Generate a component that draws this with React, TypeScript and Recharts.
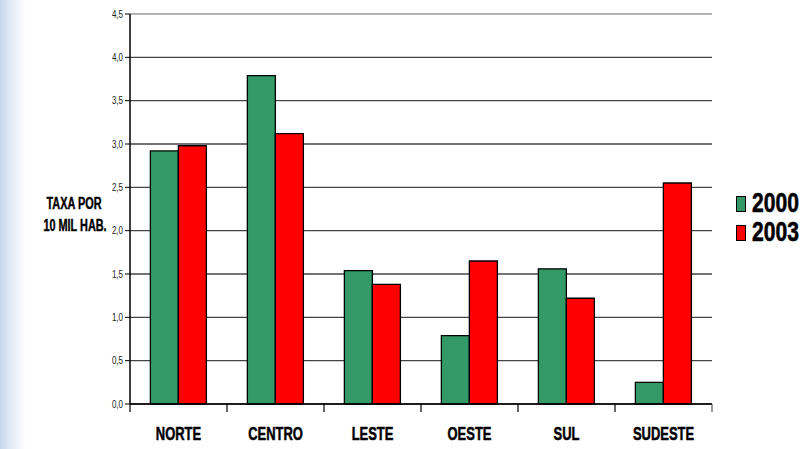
import { BarChart, Bar, XAxis, YAxis, CartesianGrid, Label } from 'recharts'

const regions = ['NORTE', 'CENTRO', 'LESTE', 'OESTE', 'SUL', 'SUDESTE']
const taxa2000 = [2.92, 3.79, 1.54, 0.79, 1.56, 0.25]
const taxa2003 = [2.98, 3.12, 1.38, 1.65, 1.22, 2.55]
const yTicks = [0, 0.5, 1, 1.5, 2, 2.5, 3, 3.5, 4, 4.5]
const seriesNames = ['2000', '2003']
const seriesColors = ['#339966', '#FF0000']

const data = regions.map((r, i) => ({ region: r, a: taxa2000[i], b: taxa2003[i] }))

const W = 804
const H = 449
const margin = { top: 14, right: 92, bottom: 0, left: 0 }
const Y_AXIS_W = 130
const X_AXIS_H = 45
const band = (W - margin.left - Y_AXIS_W - margin.right) / regions.length
const FONT = "'Liberation Sans', Arial, sans-serif"

// arial bold squeezed sideways, like the narrow font of the original
function NarrowText(props: any) {
  const { x, y, size, sx, anchor = 'middle', weight = 'bold', fill = '#000', thick = 0, children } = props
  return (
    <text
      transform={`translate(${x},${y}) scale(${sx},1)`}
      x={0}
      y={0}
      textAnchor={anchor}
      fontFamily={FONT}
      fontWeight={weight}
      fontSize={size}
      fill={fill}
      stroke={thick ? fill : 'none'}
      strokeWidth={thick}
    >
      {children}
    </text>
  )
}

function CategoryTick(props: any) {
  const { x, y, payload, index } = props
  const left = x - band / 2
  const right = x + band / 2
  return (
    <g>
      <line x1={left} x2={left} y1={y} y2={y + 8} stroke="#000" strokeWidth={1.2} />
      {index === regions.length - 1 && (
        <line x1={right} x2={right} y1={y} y2={y + 8} stroke="#555" strokeWidth={1.2} />
      )}
      <NarrowText x={x} y={y + 36} size={18} sx={0.72} thick={0.5}>
        {payload.value}
      </NarrowText>
    </g>
  )
}

function ValueTick(props: any) {
  const { x, y, payload } = props
  return (
    <NarrowText x={x} y={y + 3.5} size={10} sx={0.8} anchor="end" weight="normal" fill="#222">
      {payload.value.toFixed(1).replace('.', ',')}
    </NarrowText>
  )
}

function YTitle(props: any) {
  const vb = props.viewBox || { y: 0, height: 0 }
  const cy = vb.y + vb.height / 2
  return (
    <g>
      <NarrowText x={74} y={cy} size={16} sx={0.68} thick={0.45}>TAXA POR</NarrowText>
      <NarrowText x={75} y={cy + 22} size={16} sx={0.68} thick={0.45}>10 MIL HAB.</NarrowText>
    </g>
  )
}

function GridLine(props: any) {
  const { x1, y1, x2, y2 } = props
  const top = y1 <= margin.top + 0.5
  return <line x1={x1} y1={y1} x2={x2} y2={y2} stroke={top ? '#999' : '#444'} strokeWidth={1.3} />
}

function LegendBox() {
  return (
    <div style={{ position: 'absolute', left: 736, top: 189, fontFamily: FONT, fontWeight: 'bold', color: '#000' }}>
      {seriesNames.map((n, i) => (
        <div key={n} style={{ display: 'flex', alignItems: 'center', height: 29 }}>
          <span
            style={{
              flexShrink: 0,
              display: 'inline-block',
              width: 8,
              height: 14,
              background: seriesColors[i],
              border: '1px solid #000',
              marginRight: 6,
            }}
          />
          <span
            style={{
              fontSize: 27,
              display: 'inline-block',
              transform: 'scaleX(0.78)',
              transformOrigin: 'left center',
              WebkitTextStroke: '0.6px #000',
            }}
          >
            {n}
          </span>
        </div>
      ))}
    </div>
  )
}

export default function App() {
  return (
    <div
      style={{
        position: 'absolute',
        left: 0,
        top: 0,
        width: W,
        height: H,
        background: 'linear-gradient(to right, #c6d6ee 0px, #dfe8f5 10px, #ffffff 26px)',
      }}
    >
      <BarChart width={W} height={H} data={data} margin={margin} barCategoryGap="21%" barGap={0}>
        <CartesianGrid vertical={false} horizontal={(p: any) => <GridLine key={p.key ?? p.index} {...p} />} />
        <XAxis
          dataKey="region"
          height={X_AXIS_H}
          axisLine={{ stroke: '#000', strokeWidth: 1.5 }}
          tickLine={false}
          tickSize={0}
          tickMargin={0}
          interval={0}
          tick={<CategoryTick />}
        />
        <YAxis
          width={Y_AXIS_W}
          domain={[0, 4.5]}
          ticks={yTicks}
          interval={0}
          axisLine={{ stroke: '#000', strokeWidth: 1.5 }}
          tickLine={{ stroke: '#000' }}
          tickSize={5}
          tickMargin={2}
          tick={<ValueTick />}
        >
          <Label content={<YTitle />} />
        </YAxis>
        <YAxis
          yAxisId="r"
          orientation="right"
          width={0}
          domain={[0, 4.5]}
          tick={false}
          tickLine={false}
          axisLine={{ stroke: '#888', strokeWidth: 1.2 }}
        />
        <Bar dataKey="a" name={seriesNames[0]} fill={seriesColors[0]} stroke="#000" strokeWidth={1.3} isAnimationActive={false} />
        <Bar dataKey="b" name={seriesNames[1]} fill={seriesColors[1]} stroke="#000" strokeWidth={1.3} isAnimationActive={false} />
      </BarChart>
      <LegendBox />
    </div>
  )
}
